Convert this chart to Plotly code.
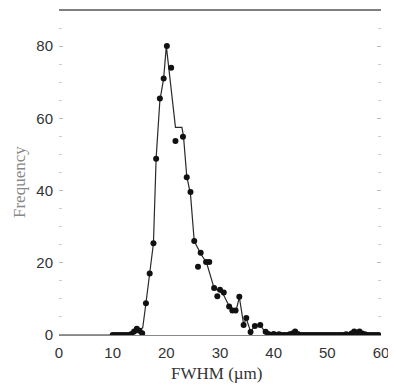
import plotly.graph_objects as go

# Measured histogram points (FWHM in µm, frequency)
dot_x = [10, 10.5, 11, 11.5, 12, 12.5, 13, 13.5, 14, 14.5, 15, 15.5,
         16.2, 16.9, 17.6, 18.1, 18.8, 19.5, 20.1, 20.9, 21.7, 23.1, 23.8, 24.5,
         25.2, 25.9, 26.4, 27.4, 28.0, 28.9, 29.5, 30.0, 30.7, 31.7, 32.3, 32.9,
         33.6, 34.4, 34.9, 35.7, 36.5, 37.5, 38.5,
         39, 39.5, 40, 40.5, 41, 41.5, 42, 42.5, 43, 43.5, 44, 44.5, 45, 45.5,
         46, 46.5, 47, 47.5, 48, 48.5, 49, 49.5, 50, 50.5, 51, 51.5, 52, 52.5,
         53, 53.5, 54, 54.5, 55, 55.5, 56, 56.5, 57, 57.5, 58, 58.5, 59, 59.5]
dot_y = [0, 0, 0, 0, 0, 0, 0, 0.3, 1.0, 1.7, 1.2, 0.5,
         8.8, 17, 25.4, 48.8, 65.5, 71, 80, 74, 53.7, 54.9, 43.7, 39.6,
         26, 18.9, 22.8, 20.2, 20.2, 13, 10.7, 12.5, 11.8, 7.9, 6.8, 6.8,
         10.6, 2.8, 4.7, 0.8, 2.5, 2.8, 0.9,
         0.3, 0, 0.3, 0, 0.2, 0, 0, 0, 0.2, 0.4, 1.0, 0.3, 0, 0,
         0, 0, 0, 0, 0, 0, 0, 0, 0, 0, 0, 0, 0, 0,
         0, 0.2, 0, 0.4, 1.0, 0.6, 1.0, 0.4, 0.2, 0, 0, 0, 0, 0]

# Smoothed curve drawn through the data
line_x = [0, 13.5, 14, 14.5, 15, 15.6, 16.2, 16.9, 17.6, 18.1, 18.8, 19.5, 20.0,
          21.7, 22.9, 23.2, 23.8, 24.5, 25.2, 26.4, 27.5, 28.9, 30.0, 30.7, 31.7,
          33.0, 33.6, 34.4, 34.9, 35.7, 36.5, 37.5, 38.5, 39, 60]
line_y = [0, 0, 0.5, 1.7, 1.5, 2.0, 8.8, 17, 25.4, 49, 65, 71, 80,
          57.5, 57.5, 55, 44, 39, 26, 22.5, 20, 13, 12, 11, 8,
          6.8, 10.5, 3, 4.5, 1, 2.5, 2.8, 0.5, 0, 0]

x_ticks = [0, 10, 20, 30, 40, 50, 60]
y_ticks = [0, 20, 40, 60, 80]

fig = go.Figure()
fig.add_trace(go.Scatter(x=line_x, y=line_y, mode="lines",
                         line=dict(color="#2a2a2a", width=1.2),
                         showlegend=False, hoverinfo="skip"))
fig.add_trace(go.Scatter(x=dot_x, y=dot_y, mode="markers",
                         marker=dict(color="#111111", size=6),
                         showlegend=False))

fig.update_layout(
    width=388, height=379,
    margin=dict(l=51, r=15, t=2, b=52),
    paper_bgcolor="white", plot_bgcolor="white",
    font=dict(family="Liberation Sans, Arial, sans-serif", size=14, color="#333"),
    xaxis=dict(range=[0, 60], tickvals=x_ticks, ticktext=[str(v) for v in x_ticks],
               showgrid=False, zeroline=False, showline=True,
               linecolor="#888", linewidth=1, ticks="", ticklabelstandoff=4,
               tickfont=dict(size=15, color="#333")),
    yaxis=dict(range=[0, 90], tickvals=y_ticks, ticktext=[str(v) for v in y_ticks],
               showgrid=False, zeroline=False, showline=False,
               ticks="inside", ticklen=4, tickcolor="#bbb", mirror="ticks",
               ticklabelstandoff=5,
               minor=dict(dtick=5, ticks="inside", ticklen=3, tickcolor="#ccc"),
               tickfont=dict(size=15, color="#333")),
    shapes=[dict(type="line", xref="paper", yref="paper", x0=0, x1=1, y0=1, y1=1,
                 line=dict(color="#555", width=1.5))],
    annotations=[
        dict(text="FWHM (µm)", xref="paper", yref="paper", x=0.49, y=-0.118,
             xanchor="center", yanchor="middle", showarrow=False,
             font=dict(family="Liberation Serif, Times New Roman, serif", size=17, color="#333")),
        dict(text="Frequency", xref="paper", yref="paper", x=-0.125, y=0.47,
             xanchor="center", yanchor="middle", showarrow=False, textangle=-90,
             font=dict(family="Liberation Serif, Times New Roman, serif", size=17, color="#888")),
    ],
)

fig.write_html("out.html")
